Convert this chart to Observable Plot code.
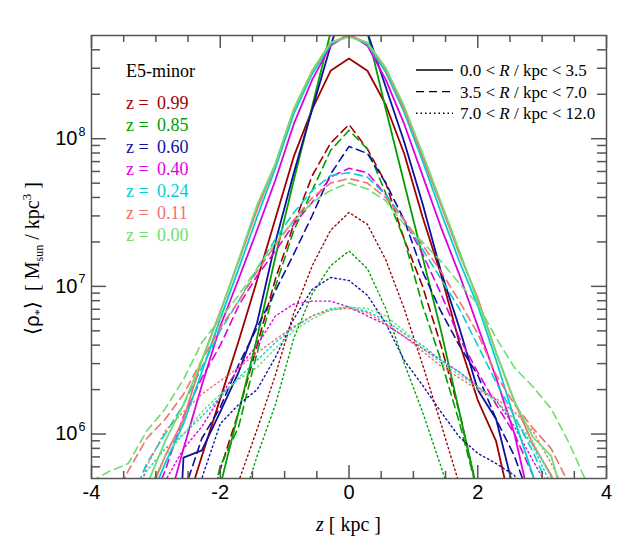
<!DOCTYPE html>
<html>
<head>
<meta charset="utf-8">
<script src="https://cdn.jsdelivr.net/npm/d3@7"></script>
<script src="https://cdn.jsdelivr.net/npm/@observablehq/plot@0.6"></script>
<style>
  body { margin: 0; background: #fff; }
  svg { display: block; }
</style>
</head>
<body>
<div id="chart"></div>
<script>
// vertical height grid (kpc)
const zGrid = [-4, -3.714, -3.429, -3.143, -2.857, -2.571, -2.286, -2, -1.714, -1.429, -1.143, -0.857, -0.571, -0.286, 0, 0.286, 0.571, 0.857, 1.143, 1.429, 1.714, 2, 2.286, 2.571, 2.857, 3.143, 3.429, 3.714, 4];

// redshift labels and colours
const redshifts = ["0.99", "0.85", "0.60", "0.40", "0.24", "0.11", "0.00"];
const colors = ["#a00000", "#00a000", "#1010a0", "#e000e0", "#00d0d0", "#f07070", "#70dd70"];

// log10 <rho*> [Msun/kpc^3], 0.0 < R < 3.5 kpc (solid)
const solid_099 = [null,null,null,null,5.0,5.45,5.85,6.24,6.63,7.04,7.46,7.88,8.2,8.46,8.544,8.46,8.23,7.9,7.47,7.08,6.62,6.23,5.95,5.4,5.0,null,null,null,null];
const solid_085 = [null,null,null,null,null,null,5.1,5.65,6.15,6.65,7.2,7.72,8.22,8.72,9.15,8.72,8.2,7.7,7.2,6.7,6.15,5.6,5.0,null,null,null,null,null,null];
const solid_060 = [null,null,null,null,3.5,5.84,5.89,6.15,6.42,6.75,7.3,7.77,8.2,8.63,9.0,8.72,8.35,7.98,7.56,7.1,6.72,6.3,6.1,5.6,5.0,null,null,null,null];
const solid_040 = [null,null,null,5.0,5.45,5.9,6.33,6.73,7.05,7.38,7.72,8.1,8.4,8.63,8.71,8.63,8.4,8.1,7.75,7.4,7.08,6.73,6.38,6.0,5.45,5.0,null,null,null];
const solid_024 = [null,null,5.2,5.5,5.8,6.07,6.42,6.78,7.12,7.47,7.8,8.17,8.44,8.64,8.70,8.64,8.45,8.18,7.85,7.5,7.17,6.87,6.5,6.1,5.72,5.3,null,null,null];
const solid_011 = [null,null,5.2,5.55,5.85,6.1,6.5,6.83,7.17,7.52,7.83,8.2,8.46,8.65,8.70,8.65,8.47,8.2,7.88,7.55,7.22,6.92,6.55,6.22,5.93,5.72,5.3,null,null];
const solid_000 = [null,null,5.3,5.65,5.95,6.2,6.5,6.82,7.18,7.55,7.83,8.2,8.46,8.65,8.69,8.65,8.48,8.22,7.9,7.57,7.24,6.9,6.55,6.22,5.98,5.85,5.4,5.0,null];

// 3.5 < R < 7.0 kpc (dashed)
const dashed_099 = [null,null,null,null,null,4.8,5.3,5.76,6.15,6.6,7.05,7.42,7.75,7.97,8.096,7.93,7.7,7.32,7.0,6.6,6.15,5.6,5.0,null,null,null,null,null,null];
const dashed_085 = [null,null,null,null,null,null,5.3,5.78,6.05,6.55,7.0,7.38,7.65,7.92,8.057,7.93,7.63,7.32,6.87,6.5,6.08,5.6,5.0,null,null,null,null,null,null];
const dashed_060 = [null,null,null,null,5.2,5.6,5.97,6.18,6.47,6.72,6.97,7.22,7.48,7.76,7.948,7.9,7.7,7.45,7.1,6.83,6.6,6.4,6.1,5.85,5.5,null,null,null,null];
const dashed_040 = [null,null,null,5.45,5.75,6.12,6.38,6.6,6.87,7.07,7.24,7.42,7.57,7.74,7.80,7.77,7.62,7.45,7.22,6.95,6.65,6.42,6.2,6.0,5.72,5.4,null,null,null];
const dashed_024 = [null,null,5.5,5.8,6.0,6.2,6.45,6.7,6.9,7.12,7.32,7.5,7.65,7.75,7.77,7.74,7.62,7.45,7.25,7.05,6.85,6.6,6.35,6.12,5.88,5.6,5.3,null,null];
const dashed_011 = [null,5.5,5.75,5.97,6.1,6.27,6.5,6.72,6.9,7.1,7.28,7.45,7.6,7.7,7.73,7.7,7.6,7.45,7.28,7.1,6.9,6.68,6.4,6.2,6.04,5.9,5.65,5.3,null];
const dashed_000 = [5.68,5.75,5.8,6.02,6.17,6.37,6.62,6.78,6.94,7.12,7.3,7.44,7.57,7.65,7.70,7.66,7.58,7.42,7.30,7.17,7.02,6.88,6.65,6.45,6.32,6.17,5.93,5.65,5.4];

// 7.0 < R < 12.0 kpc (dotted)
const dotted_099 = [null,null,null,null,null,null,null,5.3,5.68,6.03,6.4,6.82,7.14,7.38,7.50,7.42,7.18,6.85,6.47,6.07,5.66,5.25,null,null,null,null,null,null,null];
const dotted_085 = [null,null,null,null,null,null,null,5.0,5.45,5.85,6.2,6.65,6.95,7.14,7.24,7.12,6.85,6.48,6.15,5.78,5.4,null,null,null,null,null,null,null,null];
const dotted_060 = [null,null,null,null,null,5.3,5.7,6.07,6.2,6.3,6.52,6.78,6.98,7.06,7.04,6.94,6.75,6.5,6.33,6.15,5.98,5.87,5.8,5.72,5.4,null,null,null,null];
const dotted_040 = [null,null,null,5.4,5.68,5.9,6.05,6.25,6.45,6.6,6.8,6.88,6.9,6.9,6.86,6.8,6.74,6.66,6.58,6.5,6.42,6.32,6.23,6.05,5.82,5.6,null,null,null];
const dotted_024 = [null,null,5.5,5.75,5.9,6.0,6.12,6.25,6.38,6.5,6.62,6.72,6.8,6.85,6.86,6.83,6.77,6.68,6.6,6.5,6.42,6.32,6.22,6.1,5.92,5.65,null,null,null];
const dotted_011 = [null,null,5.4,5.78,6.02,6.15,6.27,6.36,6.45,6.55,6.64,6.73,6.8,6.84,6.85,6.82,6.75,6.66,6.56,6.46,6.38,6.3,6.24,6.15,6.02,5.8,5.55,null,null];
const dotted_000 = [null,null,null,5.6,5.85,6.0,6.15,6.27,6.37,6.45,6.58,6.7,6.78,6.84,6.86,6.85,6.8,6.7,6.58,6.48,6.4,6.32,6.22,6.1,5.95,5.7,5.45,null,null];

// ticks
const xMajor = [-4, -2, 0, 2, 4];
const xMinor = [-3.5, -3, -2.5, -1.5, -1, -0.5, 0.5, 1, 1.5, 2.5, 3, 3.5];
const yMajorExp = [6, 7, 8];
const yMinor = [6e5, 7e5, 8e5, 9e5, 2e6, 3e6, 4e6, 5e6, 6e6, 7e6, 8e6, 9e6, 2e7, 3e7, 4e7, 5e7, 6e7, 7e7, 8e7, 9e7, 2e8, 3e8, 4e8];

// legend texts
const radialBins = [["0.0", "3.5"], ["3.5", "7.0"], ["7.0", "12.0"]];

const solidSets = [solid_099, solid_085, solid_060, solid_040, solid_024, solid_011, solid_000];
const dashedSets = [dashed_099, dashed_085, dashed_060, dashed_040, dashed_024, dashed_011, dashed_000];
const dottedSets = [dotted_099, dotted_085, dotted_060, dotted_040, dotted_024, dotted_011, dotted_000];

const styles = [
  {sets: solidSets, dash: null, width: 1.8},
  {sets: dashedSets, dash: "8,5", width: 1.6},
  {sets: dottedSets, dash: "1.5,3", width: 1.4}
];

function toRows(arr) {
  const out = [];
  arr.forEach((v, i) => { if (v != null) out.push({z: zGrid[i], rho: Math.pow(10, v)}); });
  return out;
}

const SANS = "'Liberation Sans', Arial, Helvetica, sans-serif";
const SERIF = "'Liberation Serif', 'Times New Roman', serif";
const AXC = "#555";

const W = 629, H = 550, ML = 91, MR = 23, MT = 35, MB = 72;
const plotH = H - MT - MB;
const plotW = W - ML - MR;

const lineMarks = [];
for (let i = 0; i < redshifts.length; i++) {
  for (const st of styles) {
    lineMarks.push(Plot.line(toRows(st.sets[i]), {
      x: "z", y: "rho", stroke: colors[i], strokeWidth: st.width,
      strokeDasharray: st.dash, clip: true
    }));
  }
}

const chart = Plot.plot({
  width: W, height: H,
  marginLeft: ML, marginRight: MR, marginTop: MT, marginBottom: MB,
  x: {domain: [-4, 4], axis: null},
  y: {type: "log", domain: [5e5, 5e8], axis: null},
  style: {background: "#fff", overflow: "visible"},
  marks: [
    ...lineMarks,
    // inward ticks
    Plot.tickX(xMajor, {x: d => d, insetTop: plotH - 13, stroke: AXC, strokeWidth: 1.5}),
    Plot.tickX(xMajor, {x: d => d, insetBottom: plotH - 13, stroke: AXC, strokeWidth: 1.5}),
    Plot.tickX(xMinor, {x: d => d, insetTop: plotH - 7, stroke: AXC, strokeWidth: 1.5}),
    Plot.tickX(xMinor, {x: d => d, insetBottom: plotH - 7, stroke: AXC, strokeWidth: 1.5}),
    Plot.tickY(yMajorExp, {y: d => Math.pow(10, d), insetRight: plotW - 15, stroke: AXC, strokeWidth: 1.5}),
    Plot.tickY(yMajorExp, {y: d => Math.pow(10, d), insetLeft: plotW - 15, stroke: AXC, strokeWidth: 1.5}),
    Plot.tickY(yMinor, {y: d => d, insetRight: plotW - 9, stroke: AXC, strokeWidth: 1.5}),
    Plot.tickY(yMinor, {y: d => d, insetLeft: plotW - 9, stroke: AXC, strokeWidth: 1.5}),
    Plot.frame({stroke: AXC, strokeWidth: 1.5}),
    // tick labels
    Plot.text(xMajor, {x: d => d, frameAnchor: "bottom", dy: 20, text: d => String(d), fontSize: 20, fontFamily: SANS, fill: "#000"}),
    Plot.text(yMajorExp, {y: d => Math.pow(10, d), frameAnchor: "left", dx: -14, text: () => "10", textAnchor: "end", fontSize: 20, fontFamily: SANS, fill: "#000"}),
    Plot.text(yMajorExp, {y: d => Math.pow(10, d), frameAnchor: "left", dx: -13, dy: -7, text: d => String(d), textAnchor: "start", fontSize: 12.5, fontFamily: SANS, fill: "#000"})
  ]
});

document.getElementById("chart").appendChild(chart);

// overlay texts: axis titles and legends
const svg = d3.select(chart);

// x-axis title
const xt = svg.append("text")
  .attr("x", ML + plotW / 2).attr("y", 531)
  .attr("text-anchor", "middle")
  .attr("font-family", SERIF).attr("font-size", 20).attr("fill", "#000")
  .style("white-space", "pre");
xt.append("tspan").attr("font-style", "italic").text("z");
xt.append("tspan").text(" [ kpc ]");

// y-axis title
const yt = svg.append("text")
  .attr("transform", `translate(39,${MT + plotH / 2 + 2}) rotate(-90)`)
  .attr("text-anchor", "middle")
  .attr("font-family", SERIF).attr("font-size", 20).attr("fill", "#000")
  .style("white-space", "pre");
yt.append("tspan").attr("font-family", SANS).text("\u27E8");
yt.append("tspan").attr("font-family", SANS).text("\u03C1");
yt.append("tspan").attr("font-size", 13).attr("dy", 4).text("*");
yt.append("tspan").attr("font-family", SANS).attr("dy", -4).text("\u27E9");
yt.append("tspan").text("  [ M");
yt.append("tspan").attr("font-size", 12).attr("dy", 4).text("sun");
yt.append("tspan").attr("dy", -4).text(" / kpc");
yt.append("tspan").attr("font-size", 13).attr("dy", -8).text("3");
yt.append("tspan").attr("dy", 8).text(" ]");

// redshift legend
svg.append("text")
  .attr("x", 126).attr("y", 77).attr("text-anchor", "start")
  .attr("font-family", SERIF).attr("font-size", 18).attr("fill", "#000")
  .text("E5-minor");
redshifts.forEach((r, i) => {
  const y = 108.5 + i * 22.05;
  svg.append("text").attr("x", 126).attr("y", y).attr("text-anchor", "start")
    .attr("font-family", SERIF).attr("font-size", 18).attr("fill", colors[i])
    .text("z =");
  svg.append("text").attr("x", 157).attr("y", y).attr("text-anchor", "start")
    .attr("font-family", SERIF).attr("font-size", 18).attr("fill", colors[i])
    .text(r);
});

// line style legend
const legDash = [null, "8,5", "1.5,3"];
radialBins.forEach((b, i) => {
  const y = 70 + i * 21.6;
  const ln = svg.append("line")
    .attr("x1", 416).attr("x2", 453).attr("y1", y).attr("y2", y)
    .attr("stroke", "#000").attr("stroke-width", 1.4);
  if (legDash[i]) ln.attr("stroke-dasharray", legDash[i]);
  const t = svg.append("text").attr("x", 460).attr("y", y + 6).attr("text-anchor", "start")
    .attr("font-family", SERIF).attr("font-size", 17).attr("fill", "#000")
    .style("white-space", "pre");
  t.append("tspan").text(b[0] + " < ");
  t.append("tspan").attr("font-style", "italic").text("R");
  t.append("tspan").text(" / kpc < " + b[1]);
});
</script>
</body>
</html>
